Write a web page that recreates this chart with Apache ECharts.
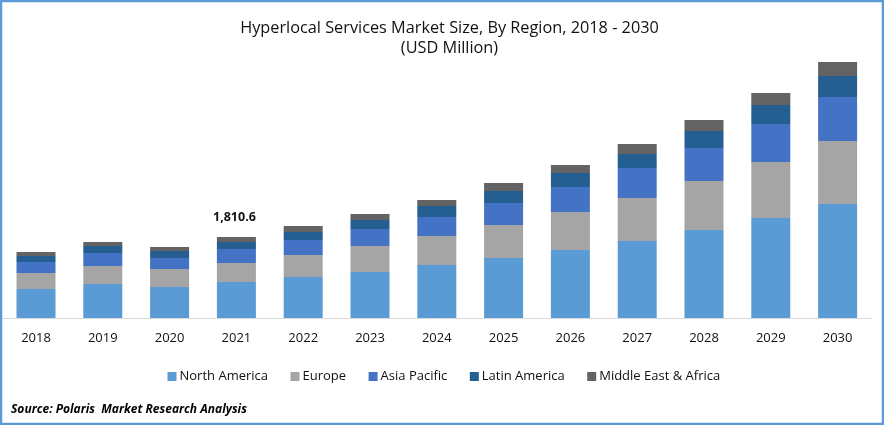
<!DOCTYPE html>
<html>
<head>
<meta charset="utf-8">
<style>
html,body{margin:0;padding:0;background:#fff}
#chart{width:884px;height:425px}
</style>
<script src="https://cdn.jsdelivr.net/npm/echarts@6/dist/echarts.min.js"></script>
</head>
<body>
<div id="chart"></div>
<script>
var years = ['2018','2019','2020','2021','2022','2023','2024','2025','2026','2027','2028','2029','2030']
var northAmerica = [648,760,693,805,916,1028,1185,1341,1520,1721,1967,2235,2548]
var europe = [358,402,402,425,492,581,648,738,849,961,1095,1252,1408]
var asiaPacific = [246,291,246,313,335,380,425,492,559,671,738,849,983]
var latinAmerica = [134,156,156,157,179,201,246,268,313,313,380,425,469]
var middleEast = [89,89,89,111,134,134,134,179,179,224,246,268,313]
var legendNames = ['North America','Europe','Asia Pacific','Latin America','Middle East & Africa']
var colorList = ['#5b9bd5','#a5a5a5','#4472c4','#255e91','#636363']
var font = 'Open Sans'

var chart = echarts.init(document.getElementById('chart'))

function makeSeries(name, data, color) {
  return {
    name: name,
    type: 'bar',
    stack: 'total',
    barWidth: 39,
    itemStyle: { color: color },
    data: data
  }
}

chart.setOption({
  animation: false,
  backgroundColor: '#fff',
  graphic: [
    //外边框
    { type: 'rect', shape: { x: 1, y: 1, width: 882, height: 423 }, style: { fill: 'none', stroke: '#5b9bd5', lineWidth: 2.5 } },
    { type: 'text', left: 213, top: 211, style: { text: '1,810.6', fill: '#111', font: 'bold 12.5px "Open Sans"' } },
    { type: 'text', left: 11, top: 404, style: { text: 'Source: Polaris  Market Research Analysis', fill: '#000', font: 'italic bold 12px "Open Sans"' } }
  ],
  title: {
    text: 'Hyperlocal Services Market Size, By Region, 2018 - 2030\n(USD Million)',
    left: 444.5,
    top: 13,
    textAlign: 'center',
    textStyle: { fontFamily: font, fontSize: 16.3, fontWeight: 'normal', color: '#111', lineHeight: 20.5 }
  },
  legend: {
    data: legendNames,
    bottom: 37,
    left: 162.5,
    itemWidth: 9,
    itemHeight: 9,
    itemGap: 22.5,
    icon: 'rect',
    textStyle: { fontFamily: font, fontSize: 13, color: '#111', padding: [0, 0, 0, -2] }
  },
  grid: { left: 2.6, right: 13, top: 20, bottom: 107 },
  xAxis: {
    type: 'category',
    data: years,
    axisTick: { show: false },
    axisLine: { lineStyle: { color: '#d9d9d9', width: 1 } },
    axisLabel: { fontFamily: font, fontSize: 13, color: '#111', margin: 14 }
  },
  yAxis: { type: 'value', min: 0, max: 6660, show: false },
  series: [
    makeSeries(legendNames[0], northAmerica, colorList[0]),
    makeSeries(legendNames[1], europe, colorList[1]),
    makeSeries(legendNames[2], asiaPacific, colorList[2]),
    makeSeries(legendNames[3], latinAmerica, colorList[3]),
    makeSeries(legendNames[4], middleEast, colorList[4])
  ]
})
</script>
</body>
</html>
